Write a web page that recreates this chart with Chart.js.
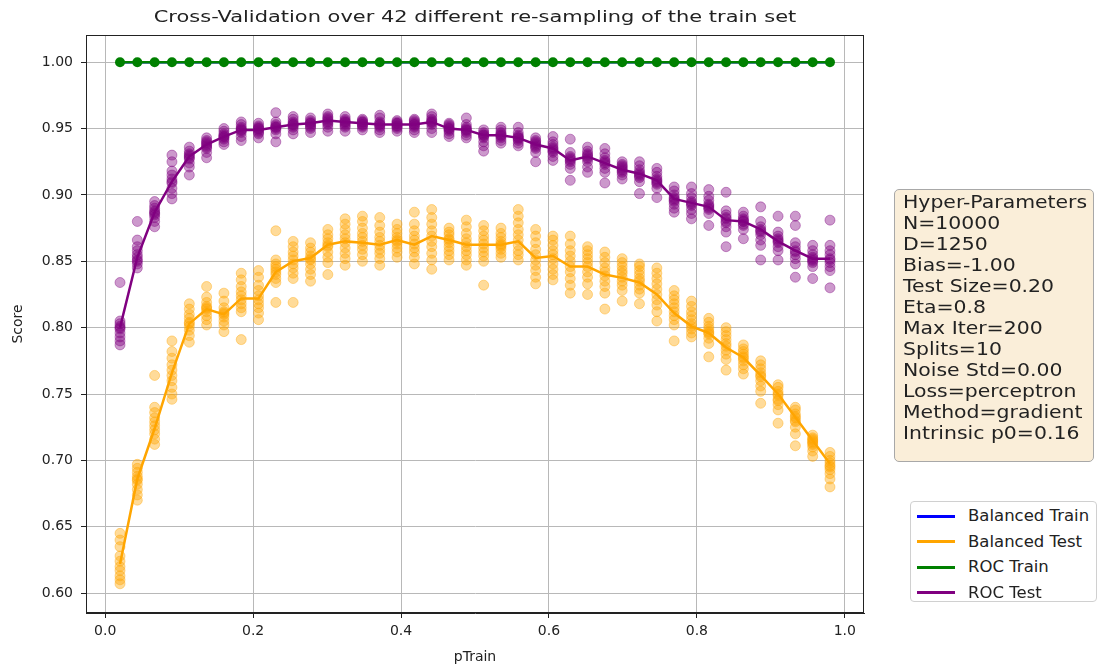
<!DOCTYPE html>
<html lang="en">
<head>
<meta charset="UTF-8">
<title>Cross-Validation over 42 re-samplings</title>
<script src="https://cdn.jsdelivr.net/npm/chart.js@4.4.1/dist/chart.umd.js"></script>
<style>
  body { margin: 0; background: #fff; font-family: "DejaVu Sans", sans-serif; color: #222; }
  #wrap { position: relative; width: 1101px; height: 666px; overflow: hidden; }
  #c { position: absolute; left: 0; top: 0; }
  #title { position: absolute; left: 86px; width: 778px; top: 7px; text-align: center; font-size: 16.5px; line-height: 20px; }
  #title span { display: inline-block; transform: scaleX(1.27); }
  #params { position: absolute; left: 894px; top: 189px; width: 200px; height: 273px; box-sizing: border-box;
            border: 1px solid #a8a8a8; border-radius: 5px; background: #faeed9; padding: 2px 0 0 8px; }
  #params div { font-size: 17px; line-height: 21px; white-space: nowrap; transform: scaleX(1.2); transform-origin: left; }
  #legend { position: absolute; left: 910px; top: 501px; width: 187px; height: 101px; box-sizing: border-box;
            border: 1px solid #d0d0d0; border-radius: 4px; background: #fff; }
  .row { position: absolute; left: 6px; height: 20px; display: flex; align-items: center; white-space: nowrap; }
  .row i { display: inline-block; width: 38px; height: 3px; margin-right: 13px; }
  .row span { font-size: 15px; display: inline-block; transform: scaleX(1.1); transform-origin: left; }
</style>
</head>
<body>
<div id="wrap">
  <canvas id="c" width="1101" height="666"></canvas>
  <div id="title"><span>Cross-Validation over 42 different re-sampling of the train set</span></div>
  <div id="params"></div>
  <div id="legend"></div>
</div>
<script>
// pTrain values (42 re-samplings)
const pTrain = [0.0200, 0.0434, 0.0668, 0.0902, 0.1137, 0.1371, 0.1605, 0.1839, 0.2073, 0.2307,
                0.2541, 0.2776, 0.3010, 0.3244, 0.3478, 0.3712, 0.3946, 0.4180, 0.4415, 0.4649,
                0.4883, 0.5117, 0.5351, 0.5585, 0.5820, 0.6054, 0.6288, 0.6522, 0.6756, 0.6990,
                0.7224, 0.7459, 0.7693, 0.7927, 0.8161, 0.8395, 0.8629, 0.8863, 0.9098, 0.9332,
                0.9566, 0.9800];

const xTicks = [0.0, 0.2, 0.4, 0.6, 0.8, 1.0];
const yTicks = [0.60, 0.65, 0.70, 0.75, 0.80, 0.85, 0.90, 0.95, 1.00];

// mean scores
const balancedTrain = [1,1,1,1,1,1,1,1,1,1, 1,1,1,1,1,1,1,1,1,1, 1,1,1,1,1,1,1,1,1,1, 1,1,1,1,1,1,1,1,1,1, 1,1];
const rocTrain      = [1,1,1,1,1,1,1,1,1,1, 1,1,1,1,1,1,1,1,1,1, 1,1,1,1,1,1,1,1,1,1, 1,1,1,1,1,1,1,1,1,1, 1,1];

const balancedTest = [0.622, 0.686, 0.724, 0.766, 0.803, 0.814, 0.810, 0.822, 0.822, 0.842,
                      0.850, 0.8525, 0.8625, 0.865, 0.864, 0.8625, 0.866, 0.8625, 0.869, 0.866,
                      0.8625, 0.8625, 0.8625, 0.865, 0.8525, 0.854, 0.846, 0.846, 0.840, 0.8375,
                      0.834, 0.825, 0.811, 0.801, 0.796, 0.785, 0.7775, 0.764, 0.750, 0.7325,
                      0.715, 0.6975];

const rocTest = [0.800, 0.853, 0.887, 0.910, 0.929, 0.938, 0.944, 0.949, 0.949, 0.951,
                 0.953, 0.954, 0.956, 0.955, 0.954, 0.953, 0.953, 0.953, 0.955, 0.950,
                 0.949, 0.945, 0.945, 0.943, 0.938, 0.935, 0.926, 0.929, 0.924, 0.919,
                 0.916, 0.911, 0.897, 0.894, 0.891, 0.881, 0.880, 0.874, 0.865, 0.858,
                 0.852, 0.852];

// per-split scores (10 splits per pTrain)
const balancedTestSplits = [
  [0.607,0.610,0.613,0.617,0.620,0.624,0.628,0.635,0.640,0.645],
  [0.670,0.674,0.678,0.682,0.685,0.688,0.691,0.694,0.697,0.686],
  [0.712,0.716,0.720,0.723,0.726,0.729,0.732,0.736,0.740,0.764],
  [0.746,0.750,0.755,0.760,0.764,0.768,0.772,0.777,0.782,0.790],
  [0.789,0.794,0.798,0.801,0.804,0.807,0.810,0.814,0.818,0.803],
  [0.802,0.806,0.809,0.812,0.814,0.816,0.819,0.823,0.831,0.815],
  [0.797,0.802,0.805,0.808,0.810,0.812,0.815,0.820,0.826,0.811],
  [0.791,0.812,0.815,0.818,0.821,0.824,0.827,0.831,0.836,0.841],
  [0.806,0.811,0.815,0.818,0.821,0.824,0.828,0.832,0.838,0.843],
  [0.819,0.834,0.837,0.840,0.842,0.844,0.846,0.848,0.851,0.873],
  [0.819,0.837,0.841,0.845,0.848,0.851,0.854,0.857,0.861,0.865],
  [0.835,0.840,0.844,0.848,0.851,0.854,0.857,0.860,0.864,0.852],
  [0.840,0.849,0.853,0.857,0.861,0.864,0.867,0.870,0.874,0.862],
  [0.847,0.852,0.856,0.860,0.864,0.867,0.870,0.874,0.878,0.882],
  [0.850,0.855,0.859,0.862,0.865,0.868,0.871,0.875,0.880,0.884],
  [0.847,0.852,0.856,0.859,0.862,0.865,0.868,0.872,0.877,0.883],
  [0.853,0.857,0.860,0.863,0.866,0.868,0.871,0.874,0.878,0.865],
  [0.848,0.853,0.857,0.860,0.863,0.866,0.869,0.873,0.878,0.887],
  [0.844,0.851,0.856,0.861,0.865,0.869,0.873,0.878,0.883,0.889],
  [0.851,0.855,0.858,0.861,0.864,0.867,0.870,0.872,0.875,0.866],
  [0.847,0.851,0.855,0.858,0.861,0.864,0.867,0.871,0.876,0.881],
  [0.832,0.850,0.854,0.857,0.860,0.863,0.866,0.869,0.873,0.877],
  [0.853,0.856,0.859,0.861,0.863,0.865,0.868,0.871,0.875,0.862],
  [0.851,0.855,0.858,0.862,0.866,0.870,0.874,0.879,0.884,0.889],
  [0.833,0.838,0.843,0.847,0.851,0.855,0.859,0.864,0.869,0.874],
  [0.836,0.840,0.844,0.848,0.852,0.855,0.858,0.862,0.866,0.869],
  [0.826,0.832,0.837,0.842,0.846,0.850,0.854,0.858,0.863,0.869],
  [0.825,0.833,0.838,0.842,0.846,0.849,0.852,0.855,0.858,0.861],
  [0.814,0.826,0.831,0.835,0.839,0.842,0.845,0.849,0.853,0.857],
  [0.820,0.828,0.832,0.835,0.838,0.841,0.843,0.846,0.849,0.852],
  [0.818,0.826,0.829,0.832,0.835,0.837,0.840,0.843,0.846,0.848],
  [0.805,0.812,0.817,0.821,0.825,0.829,0.833,0.837,0.841,0.845],
  [0.790,0.802,0.806,0.809,0.812,0.815,0.818,0.821,0.824,0.828],
  [0.793,0.796,0.799,0.801,0.803,0.806,0.809,0.812,0.816,0.820],
  [0.778,0.788,0.792,0.795,0.797,0.799,0.801,0.804,0.807,0.796],
  [0.768,0.776,0.780,0.783,0.786,0.788,0.791,0.794,0.797,0.800],
  [0.765,0.769,0.772,0.775,0.778,0.780,0.782,0.784,0.787,0.777],
  [0.743,0.752,0.756,0.760,0.763,0.766,0.769,0.772,0.775,0.764],
  [0.728,0.738,0.742,0.746,0.749,0.752,0.755,0.757,0.750,0.745],
  [0.711,0.720,0.725,0.729,0.732,0.735,0.738,0.740,0.733,0.730],
  [0.703,0.707,0.710,0.713,0.715,0.717,0.719,0.714,0.716,0.712],
  [0.680,0.686,0.690,0.693,0.696,0.698,0.700,0.703,0.706,0.695]
];

const rocTestSplits = [
  [0.787,0.790,0.793,0.796,0.799,0.801,0.803,0.805,0.800,0.834],
  [0.845,0.848,0.851,0.853,0.855,0.858,0.861,0.866,0.880,0.850],
  [0.876,0.880,0.883,0.886,0.888,0.890,0.892,0.895,0.885,0.887],
  [0.897,0.901,0.905,0.909,0.912,0.915,0.918,0.925,0.930,0.910],
  [0.915,0.921,0.924,0.927,0.929,0.931,0.933,0.936,0.928,0.930],
  [0.928,0.932,0.935,0.937,0.939,0.941,0.943,0.938,0.940,0.936],
  [0.938,0.940,0.942,0.944,0.946,0.948,0.950,0.943,0.945,0.944],
  [0.941,0.944,0.947,0.949,0.951,0.953,0.955,0.948,0.950,0.949],
  [0.943,0.946,0.948,0.950,0.952,0.954,0.949,0.947,0.951,0.950],
  [0.940,0.946,0.949,0.951,0.953,0.955,0.962,0.950,0.952,0.951],
  [0.946,0.949,0.951,0.953,0.955,0.957,0.959,0.952,0.954,0.953],
  [0.947,0.950,0.952,0.954,0.956,0.958,0.953,0.955,0.954,0.951],
  [0.948,0.951,0.953,0.955,0.957,0.959,0.961,0.956,0.954,0.958],
  [0.948,0.951,0.953,0.955,0.957,0.959,0.955,0.954,0.956,0.952],
  [0.949,0.951,0.953,0.955,0.957,0.954,0.956,0.952,0.953,0.955],
  [0.947,0.949,0.951,0.953,0.955,0.958,0.960,0.952,0.954,0.953],
  [0.948,0.950,0.952,0.954,0.956,0.953,0.955,0.951,0.952,0.954],
  [0.947,0.949,0.951,0.953,0.955,0.957,0.952,0.954,0.953,0.956],
  [0.947,0.950,0.953,0.955,0.957,0.959,0.961,0.954,0.956,0.955],
  [0.944,0.946,0.948,0.950,0.952,0.954,0.949,0.951,0.950,0.953],
  [0.943,0.945,0.947,0.949,0.951,0.953,0.958,0.948,0.950,0.949],
  [0.933,0.937,0.940,0.943,0.945,0.947,0.949,0.944,0.946,0.945],
  [0.939,0.941,0.943,0.945,0.947,0.949,0.951,0.944,0.946,0.945],
  [0.937,0.939,0.941,0.943,0.945,0.947,0.951,0.942,0.944,0.943],
  [0.925,0.932,0.935,0.937,0.939,0.941,0.943,0.938,0.940,0.936],
  [0.926,0.929,0.932,0.934,0.936,0.938,0.940,0.944,0.935,0.933],
  [0.911,0.920,0.923,0.925,0.927,0.929,0.932,0.942,0.926,0.928],
  [0.917,0.921,0.925,0.928,0.930,0.933,0.936,0.929,0.931,0.927],
  [0.909,0.917,0.920,0.923,0.925,0.928,0.931,0.935,0.924,0.926],
  [0.912,0.915,0.917,0.919,0.921,0.923,0.925,0.920,0.918,0.922],
  [0.901,0.910,0.913,0.915,0.917,0.919,0.922,0.925,0.916,0.914],
  [0.898,0.905,0.908,0.910,0.912,0.914,0.917,0.920,0.911,0.909],
  [0.887,0.890,0.893,0.896,0.898,0.900,0.903,0.906,0.897,0.895],
  [0.882,0.886,0.889,0.892,0.895,0.898,0.901,0.906,0.893,0.894],
  [0.877,0.886,0.889,0.891,0.893,0.896,0.899,0.904,0.890,0.892],
  [0.861,0.872,0.876,0.879,0.882,0.885,0.888,0.902,0.880,0.883],
  [0.867,0.874,0.877,0.880,0.882,0.884,0.887,0.880,0.878,0.881],
  [0.851,0.862,0.866,0.870,0.873,0.876,0.880,0.891,0.874,0.872],
  [0.851,0.858,0.861,0.864,0.866,0.869,0.872,0.884,0.865,0.867],
  [0.838,0.848,0.852,0.855,0.858,0.861,0.864,0.877,0.884,0.857],
  [0.837,0.846,0.849,0.851,0.853,0.855,0.858,0.862,0.852,0.850],
  [0.830,0.843,0.846,0.849,0.852,0.855,0.858,0.862,0.881,0.851]
];

const seriesNames  = ['Balanced Train', 'Balanced Test', 'ROC Train', 'ROC Test'];
const seriesColors = ['#0000ff', '#ffa500', '#008000', '#800080'];

const hyperParams = ['Hyper-Parameters', 'N=10000', 'D=1250', 'Bias=-1.00', 'Test Size=0.20', 'Eta=0.8',
                     'Max Iter=200', 'Splits=10', 'Noise Std=0.00', 'Loss=perceptron', 'Method=gradient',
                     'Intrinsic p0=0.16'];

// text boxes
const params = document.getElementById('params');
hyperParams.forEach(t => { const d = document.createElement('div'); d.textContent = t; params.appendChild(d); });

const legend = document.getElementById('legend');
seriesNames.forEach((name, i) => {
  const r = document.createElement('div');
  r.className = 'row';
  r.style.top = (4 + i * 25.6) + 'px';
  r.innerHTML = '<i style="background:' + seriesColors[i] + '"></i><span>' + name + '</span>';
  legend.appendChild(r);
});

function toPoints(xs, ys) { return xs.map((x, i) => ({ x: x, y: ys[i] })); }
function splitPoints(xs, splits) {
  const out = [];
  splits.forEach((row, i) => row.forEach(v => out.push({ x: xs[i], y: v })));
  return out;
}

const frame = {
  id: 'frame',
  afterDatasetsDraw(chart) {
    const { ctx, chartArea: a } = chart;
    ctx.save();
    ctx.strokeStyle = '#222';
    ctx.lineWidth = 1;
    ctx.strokeRect(a.left + 0.5, a.top + 0.5, a.right - a.left - 1, a.bottom - a.top - 1);
    ctx.restore();
  }
};

const tickFont = { family: 'DejaVu Sans', size: 14 };

new Chart(document.getElementById('c'), {
  type: 'scatter',
  data: {
    datasets: [
      { label: 'ROC Train', data: toPoints(pTrain, rocTrain), showLine: true, borderColor: seriesColors[2],
        borderWidth: 2.5, pointRadius: 5, pointBackgroundColor: seriesColors[2], pointBorderWidth: 0, order: 0 },
      { label: 'Balanced Train', data: toPoints(pTrain, balancedTrain), showLine: true, borderColor: seriesColors[0],
        borderWidth: 2.5, pointRadius: 0, order: 1 },
      { label: 'ROC Test', data: toPoints(pTrain, rocTest), showLine: true, borderColor: seriesColors[3],
        borderWidth: 2.5, pointRadius: 0, order: 2 },
      { label: 'ROC Test splits', data: splitPoints(pTrain, rocTestSplits), borderColor: 'rgba(128,0,128,0.4)',
        backgroundColor: 'rgba(128,0,128,0.4)', pointRadius: 5, borderWidth: 1, order: 3 },
      { label: 'Balanced Test', data: toPoints(pTrain, balancedTest), showLine: true, borderColor: seriesColors[1],
        borderWidth: 2.5, pointRadius: 0, order: 4 },
      { label: 'Balanced Test splits', data: splitPoints(pTrain, balancedTestSplits), borderColor: 'rgba(255,165,0,0.4)',
        backgroundColor: 'rgba(255,165,0,0.4)', pointRadius: 5, borderWidth: 1, order: 5 }
    ]
  },
  options: {
    responsive: false,
    animation: false,
    events: [],
    layout: { padding: { left: 0, right: 237, top: 35, bottom: 0 } },
    plugins: { legend: { display: false }, tooltip: { enabled: false }, title: { display: false } },
    scales: {
      x: {
        type: 'linear', min: -0.026, max: 1.026,
        afterBuildTicks: s => { s.ticks = xTicks.map(v => ({ value: v })); },
        afterFit: s => { s.height = 53; },
        ticks: { callback: v => v.toFixed(1), font: tickFont, color: '#222', padding: 5 },
        grid: { color: '#b8b8b8', lineWidth: 1, tickColor: '#222', tickLength: 5 },
        border: { color: '#222', width: 1 },
        title: { display: true, text: 'pTrain', font: tickFont, color: '#222', padding: { top: 0, bottom: 0 } }
      },
      y: {
        type: 'linear', min: 0.585, max: 1.0205,
        afterBuildTicks: s => { s.ticks = yTicks.map(v => ({ value: v })); },
        afterFit: s => { s.width = 86; },
        ticks: { callback: v => v.toFixed(2), font: tickFont, color: '#222', padding: 8 },
        grid: { color: '#b8b8b8', lineWidth: 1, tickColor: '#222', tickLength: 5 },
        border: { color: '#222', width: 1 },
        title: { display: true, text: 'Score', font: tickFont, color: '#222', padding: { top: 10, bottom: 0 } }
      }
    }
  },
  plugins: [frame]
});
</script>
</body>
</html>
